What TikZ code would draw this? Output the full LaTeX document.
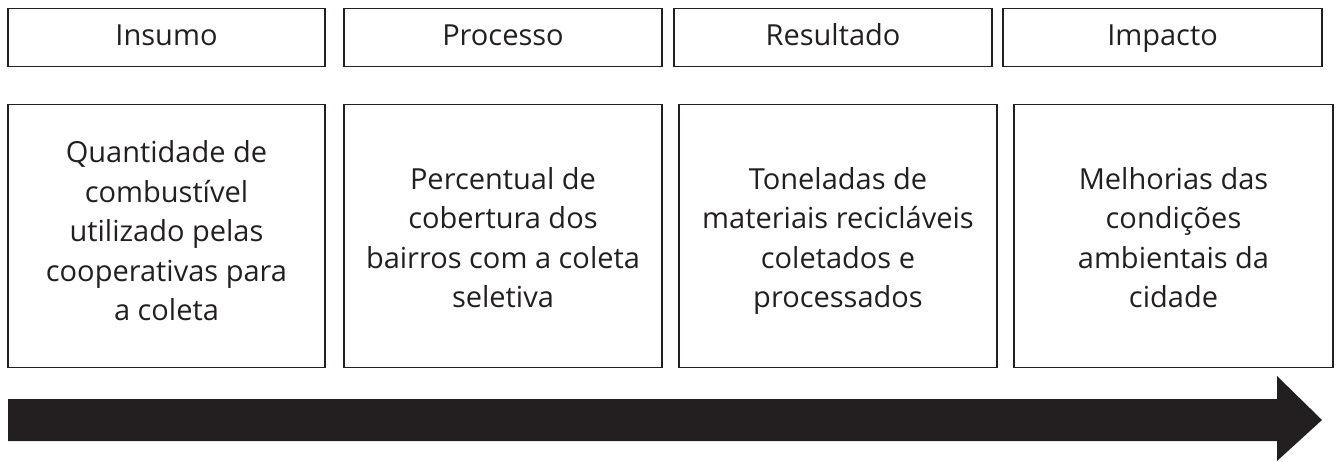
\documentclass[tikz,border=0pt]{standalone}
\usepackage{fontspec}
\setmainfont{Open Sans}
\usepackage{xcolor}
\definecolor{ink}{HTML}{231F20}

\begin{document}
\begin{tikzpicture}[x=1pt,y=-1pt]
            \tikzset{stage/.style = {draw=ink, line width=1.4pt, inner sep=0pt, anchor=north, text=ink, align=center, font=\fontsize{29}{39.5}\selectfont}}
            \tikzset{head/.style = {stage, text height=37pt, text depth=21pt}}
            \tikzset{cell/.style = {stage}}
            \useasboundingbox (0,0) rectangle (1336,462);

            % stages
            \foreach \n/\x/\w/\t in {1/166.5/317/Insumo, 2/503/318/Processo, 3/833/318/Resultado, 4/1162.5/319/Impacto}
            {
              \node[head, minimum width=\w pt] (h\n) at (\x,8) {\t};
            }

            % indicators (text height = last baseline below the top)
            \node[cell, minimum width=317pt, text height=216pt, text depth=47pt] (c1) at (166.5,104) {Quantidade de\\combustível\\utilizado pelas\\cooperativas para\\a coleta};
            \node[cell, minimum width=318pt, text height=203pt, text depth=60pt] (c2) at (503,104) {Percentual de\\cobertura dos\\bairros com a coleta\\seletiva};
            \node[cell, minimum width=318pt, text height=203pt, text depth=60pt] (c3) at (838,104) {Toneladas de\\materiais recicláveis\\coletados e\\processados};
            \node[cell, minimum width=319pt, text height=203pt, text depth=60pt] (c4) at (1173.5,104) {Melhorias das\\condições\\ambientais da\\cidade};

            % arrow
            \fill[ink] (8,399) -- (1277,399) -- (1277,376) -- (1322,420) -- (1277,461) -- (1277,441) -- (8,441) -- cycle;

          \end{tikzpicture}
\end{document}
